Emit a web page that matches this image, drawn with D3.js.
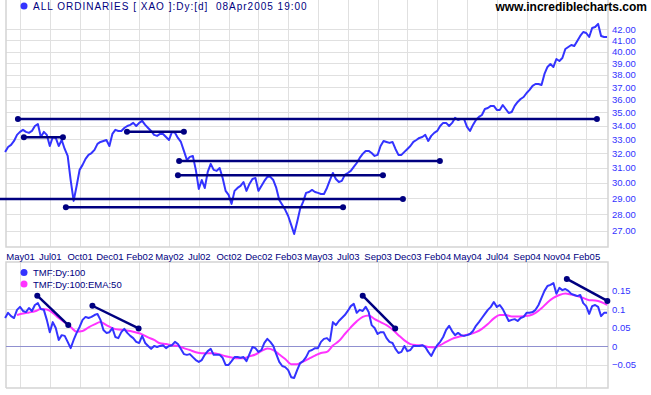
<!DOCTYPE html>
<html>
<head>
<meta charset="utf-8">
<script src="https://cdn.jsdelivr.net/npm/d3@7"></script>
<style>
  body { margin: 0; background: #fff; }
  svg { display: block; font-family: "Liberation Sans", Arial, sans-serif; }
</style>
</head>
<body>
<div id="chart"></div>
<script>
// one sample every 5 trading days
const priceValues = [
  32.09, 32.44, 32.59, 32.87, 33.31, 33.53, 33.68, 33.53, 33.46, 33.60,
  33.97, 34.12, 33.16, 33.53, 33.31, 32.51, 33.16, 33.09, 32.51, 32.94,
  32.30, 31.81, 30.17, 28.82, 29.78, 30.85, 31.19, 31.60, 31.88, 32.01,
  32.23, 32.66, 32.80, 32.87, 32.94, 32.51, 33.38, 33.68, 33.60, 33.60,
  33.82, 33.97, 34.05, 34.20, 33.97, 34.20, 34.35, 34.05, 33.82, 33.60,
  33.31, 33.24, 33.38, 33.38, 33.16, 32.94, 33.53, 33.46, 33.09, 32.80,
  32.16, 31.53, 31.74, 31.81, 30.85, 29.59, 30.17, 29.65, 30.71, 31.26,
  30.85, 30.78, 30.98, 30.31, 29.46, 29.20, 28.63, 29.46, 29.65, 29.78,
  30.04, 29.46, 29.91, 30.24, 30.31, 29.46, 29.78, 30.11, 30.38, 30.38,
  30.17, 29.65, 28.88, 28.57, 28.26, 27.88, 27.34, 26.80, 27.52, 28.32,
  28.76, 29.33, 29.39, 29.52, 29.39, 29.33, 29.26, 29.26, 29.65, 30.17,
  30.64, 30.24, 30.04, 30.11, 30.51, 30.64, 30.78, 31.05, 31.32, 31.67,
  31.95, 32.16, 32.16, 32.01, 31.81, 31.88, 32.51, 32.87, 32.80, 32.73,
  32.80, 32.30, 31.88, 31.88, 32.09, 32.30, 32.51, 32.80, 32.94, 33.09,
  33.16, 33.31, 32.87, 33.24, 33.46, 33.60, 33.97, 34.20, 34.20, 33.97,
  34.20, 34.58, 34.42, 34.50, 34.50, 33.90, 33.60, 34.05, 34.42, 34.65,
  34.80, 35.26, 35.34, 35.50, 35.50, 35.19, 35.19, 35.57, 35.26, 34.95,
  35.03, 35.50, 35.81, 36.04, 36.20, 36.52, 36.77, 37.09, 37.25, 37.25,
  37.17, 38.08, 38.67, 38.92, 38.67, 39.35, 39.18, 39.44, 40.22, 40.40,
  40.58, 40.49, 40.94, 41.39, 41.75, 41.66, 41.30, 42.12, 42.21, 42.50,
  41.39, 41.30, 41.30
];

const tmfValues = [
  0.076, 0.090, 0.081, 0.076, 0.098, 0.106, 0.095, 0.092, 0.103, 0.095,
  0.111, 0.116, 0.100, 0.098, 0.071, 0.038, 0.065, 0.049, 0.017, 0.030,
  0.028, 0.012, -0.005, 0.017, 0.036, 0.052, 0.071, 0.079, 0.076, 0.079,
  0.084, 0.087, 0.071, 0.044, 0.036, 0.038, 0.049, 0.025, 0.022, 0.038,
  0.047, 0.036, 0.028, 0.022, 0.012, 0.009, 0.028, 0.009, 0.001, -0.007,
  0.001, -0.002, 0.001, 0.003, -0.005, 0.001, 0.003, 0.012, 0.006, -0.007,
  -0.021, -0.023, -0.021, -0.029, -0.037, -0.042, -0.037, -0.023, -0.013, -0.007,
  -0.023, -0.023, -0.023, -0.031, -0.050, -0.050, -0.040, -0.029, -0.029, -0.031,
  -0.029, -0.040, -0.021, -0.002, -0.005, -0.015, -0.010, 0.009, 0.020, 0.012,
  0.001, -0.021, -0.042, -0.053, -0.056, -0.064, -0.083, -0.085, -0.064, -0.045,
  -0.040, -0.029, -0.013, -0.010, -0.005, -0.005, 0.012, 0.020, 0.022, 0.014,
  0.065, 0.057, 0.068, 0.076, 0.084, 0.095, 0.108, 0.114, 0.090, 0.098,
  0.095, 0.106, 0.092, 0.057, 0.049, 0.033, 0.038, 0.038, 0.022, 0.012,
  0.009, -0.007, -0.018, -0.015, 0.001, -0.013, -0.010, 0.001, 0.001, 0.001,
  0.003, -0.002, -0.015, -0.026, -0.010, 0.003, 0.012, 0.025, 0.044, 0.055,
  0.041, 0.030, 0.036, 0.030, 0.028, 0.030, 0.033, 0.041, 0.055, 0.065,
  0.076, 0.087, 0.098, 0.106, 0.119, 0.106, 0.111, 0.100, 0.084, 0.068,
  0.071, 0.073, 0.068, 0.076, 0.079, 0.090, 0.090, 0.092, 0.098, 0.111,
  0.130, 0.149, 0.162, 0.165, 0.170, 0.141, 0.157, 0.151, 0.154, 0.149,
  0.141, 0.138, 0.135, 0.138, 0.116, 0.108, 0.087, 0.108, 0.111, 0.106,
  0.081, 0.090, 0.090
];

// EMA:50 of TMF, read every second sample starting at sample 4
const emaStart = 4, emaStep = 2;
const emaValues = [
  0.084, 0.088, 0.091, 0.094, 0.100, 0.099, 0.090, 0.076, 0.064, 0.052,
  0.039, 0.041, 0.051, 0.059, 0.065, 0.057, 0.049, 0.045, 0.044, 0.041,
  0.037, 0.032, 0.024, 0.017, 0.008, 0.006, 0.003, 0.001, -0.005, -0.010,
  -0.016, -0.019, -0.019, -0.019, -0.022, -0.027, -0.030, -0.032, -0.032, -0.027,
  -0.022, -0.013, -0.006, -0.010, -0.022, -0.034, -0.048, -0.048, -0.041, -0.033,
  -0.025, -0.018, -0.015, 0.002, 0.014, 0.033, 0.051, 0.067, 0.079, 0.083,
  0.073, 0.065, 0.057, 0.045, 0.030, 0.016, 0.006, 0.003, 0.002, -0.002,
  -0.003, 0.003, 0.012, 0.020, 0.025, 0.029, 0.033, 0.038, 0.047, 0.060,
  0.075, 0.084, 0.084, 0.080, 0.080, 0.081, 0.083, 0.090, 0.102, 0.118,
  0.130, 0.138, 0.142, 0.139, 0.135, 0.130, 0.124, 0.123, 0.119, 0.111
];

const monthLabels = ["May01", "Jul01", "Oct01", "Dec01", "Feb02", "May02", "Jul02", "Oct02",
  "Dec02", "Feb03", "May03", "Jul03", "Sep03", "Dec03", "Feb04", "May04", "Jul04",
  "Sep04", "Nov04", "Feb05"];
const monthIndex = monthLabels.map((d, k) => 5 + 10 * k);

const priceTicks = [27, 28, 29, 30, 31, 32, 33, 34, 35, 36, 37, 38, 39, 40, 41, 42];
const tmfTicks = [-0.05, 0, 0.05, 0.1, 0.15];

// support / resistance lines drawn on the price panel
const priceLines = [
  { from: 4.3, to: 198.6, price: 34.50 },
  { from: 6.3, to: 19.4, price: 33.14 },
  { from: 40.9, to: 60.0, price: 33.55 },
  { from: 58.4, to: 145.9, price: 31.46 },
  { from: 58.0, to: 126.8, price: 30.48 },
  { from: -3, to: 133.5, price: 28.94 },
  { from: 20.4, to: 113.4, price: 28.42 }
];

// trend lines on the TMF panel
const tmfLines = [
  { from: 10.8, v0: 0.136, to: 21.2, v1: 0.057 },
  { from: 29.3, v0: 0.109, to: 44.8, v1: 0.048 },
  { from: 120.0, v0: 0.136, to: 130.9, v1: 0.048 },
  { from: 188.5, v0: 0.181, to: 202.1, v1: 0.122 }
];

const W = 651, H = 395;
const left = 6, right = 608;
const top1 = 0, bottom1 = 247, top2 = 262, bottom2 = 388;

const navy = "#000080", blue = "#3333ff", magenta = "#ff33ff", grid = "#e0e0e0";

const svg = d3.select("#chart").append("svg")
    .attr("width", W)
    .attr("height", H);

const x = d3.scaleLinear().domain([0, 202]).range([5.1, 607.06]);
const yPrice = d3.scaleLog().domain([27, 42]).range([230.6, 29.3]);
const yTmf = d3.scaleLinear().domain([-0.05, 0.15]).range([364.9, 290.5]);

// grid
const gridG = svg.append("g").attr("stroke", grid).attr("stroke-width", 1);

monthIndex.forEach(i => {
    let xx = Math.round(x(i)) + 0.5;
    gridG.append("line").attr("x1", xx).attr("x2", xx).attr("y1", top1).attr("y2", bottom1);
    gridG.append("line").attr("x1", xx).attr("x2", xx).attr("y1", top2).attr("y2", bottom2);
});

priceTicks.forEach(p => {
    let yy = Math.round(yPrice(p)) + 0.5;
    gridG.append("line").attr("x1", left).attr("x2", right).attr("y1", yy).attr("y2", yy);
});

tmfTicks.filter(v => v !== 0).forEach(v => {
    let yy = Math.round(yTmf(v)) + 0.5;
    gridG.append("line").attr("x1", left).attr("x2", right).attr("y1", yy).attr("y2", yy);
});

// panel borders
const border = svg.append("g").attr("stroke", "#d4d4d4").attr("stroke-width", 1.5).attr("fill", "none");
border.append("path").attr("d", `M${left},${top1}V${bottom1}H${right}V${top1}`);
border.append("path").attr("d", `M${left},${bottom2}V${top2}H${right}V${bottom2}H${left}`);

// zero line
svg.append("line")
    .attr("x1", left).attr("x2", right)
    .attr("y1", Math.round(yTmf(0)) + 0.5).attr("y2", Math.round(yTmf(0)) + 0.5)
    .attr("stroke", "#9090d0")
    .attr("stroke-width", 1);

// price line
const priceLine = d3.line()
    .x((d, i) => x(i))
    .y(d => yPrice(d));

svg.append("path")
    .datum(priceValues)
    .attr("d", priceLine)
    .attr("fill", "none")
    .attr("stroke", blue)
    .attr("stroke-width", 2)
    .attr("stroke-linejoin", "round");

// horizontal support lines
const hl = svg.append("g");
priceLines.forEach(l => {
    hl.append("line")
        .attr("x1", x(l.from)).attr("x2", x(l.to))
        .attr("y1", yPrice(l.price)).attr("y2", yPrice(l.price))
        .attr("stroke", navy).attr("stroke-width", 2.5);
    [l.from, l.to].forEach(i => {
        hl.append("circle").attr("cx", x(i)).attr("cy", yPrice(l.price)).attr("r", 3).attr("fill", navy);
    });
});

// TMF + EMA
const tmfLine = d3.line()
    .x((d, i) => x(i))
    .y(d => yTmf(d));

const emaLine = d3.line()
    .x((d, k) => x(emaStart + k * emaStep))
    .y(d => yTmf(d))
    .curve(d3.curveMonotoneX);

svg.append("path")
    .datum(emaValues)
    .attr("d", emaLine)
    .attr("fill", "none")
    .attr("stroke", magenta)
    .attr("stroke-width", 2);

svg.append("path")
    .datum(tmfValues)
    .attr("d", tmfLine)
    .attr("fill", "none")
    .attr("stroke", blue)
    .attr("stroke-width", 2)
    .attr("stroke-linejoin", "round");

const tl = svg.append("g");
tmfLines.forEach(l => {
    tl.append("line")
        .attr("x1", x(l.from)).attr("x2", x(l.to))
        .attr("y1", yTmf(l.v0)).attr("y2", yTmf(l.v1))
        .attr("stroke", navy).attr("stroke-width", 2.5);
    tl.append("circle").attr("cx", x(l.from)).attr("cy", yTmf(l.v0)).attr("r", 3).attr("fill", navy);
    tl.append("circle").attr("cx", x(l.to)).attr("cy", yTmf(l.v1)).attr("r", 3).attr("fill", navy);
});

// axes
const yAxisPrice = d3.axisRight(yPrice)
    .tickValues(priceTicks)
    .tickFormat(d3.format(".2f"))
    .tickSize(0)
    .tickPadding(4);

const gy1 = svg.append("g").attr("transform", `translate(${right},0)`).call(yAxisPrice);
gy1.select(".domain").remove();
gy1.selectAll("text").attr("fill", blue).attr("font-size", "9.5px").attr("font-family", "Liberation Sans, Arial, sans-serif");

const yAxisTmf = d3.axisRight(yTmf)
    .tickValues(tmfTicks)
    .tickFormat(d => d === 0 ? "0" : d3.format("")(+d.toFixed(2)))
    .tickSize(0)
    .tickPadding(4);

const gy2 = svg.append("g").attr("transform", `translate(${right},0)`).call(yAxisTmf);
gy2.select(".domain").remove();
gy2.selectAll("text").attr("fill", blue).attr("font-size", "9.5px").attr("font-family", "Liberation Sans, Arial, sans-serif");

const xAxis = d3.axisBottom(x)
    .tickValues(monthIndex)
    .tickFormat((d, k) => monthLabels[k])
    .tickSize(0)
    .tickPadding(6);

const gx = svg.append("g").attr("transform", `translate(0,${bottom1})`).call(xAxis);
gx.select(".domain").remove();
gx.selectAll("text").attr("fill", navy).attr("font-size", "9.5px").attr("font-family", "Liberation Sans, Arial, sans-serif");

// titles and legends
svg.append("circle").attr("cx", 24).attr("cy", 6).attr("r", 3.5).attr("fill", blue);
svg.append("text")
    .attr("x", 33).attr("y", 10)
    .attr("font-size", "10px")
    .attr("letter-spacing", "1px")
    .attr("fill", navy)
    .style("white-space", "pre")
    .text("ALL ORDINARIES [ XAO ]:Dy:[d]  08Apr2005 19:00");

svg.append("text")
    .attr("x", 647).attr("y", 11)
    .attr("text-anchor", "end")
    .attr("font-size", "12px")
    .attr("font-weight", "bold")
    .attr("fill", "#000")
    .text("www.incrediblecharts.com");

const legend = [
    { name: "TMF:Dy:100", color: blue },
    { name: "TMF:Dy:100:EMA:50", color: magenta }
];
legend.forEach((d, k) => {
    svg.append("circle").attr("cx", 24).attr("cy", 272.5 + k * 11.5).attr("r", 3.5).attr("fill", d.color);
    svg.append("text")
        .attr("x", 33).attr("y", 276 + k * 11.5)
        .attr("font-size", "9.5px")
        .attr("fill", navy)
        .text(d.name);
});
</script>
</body>
</html>
